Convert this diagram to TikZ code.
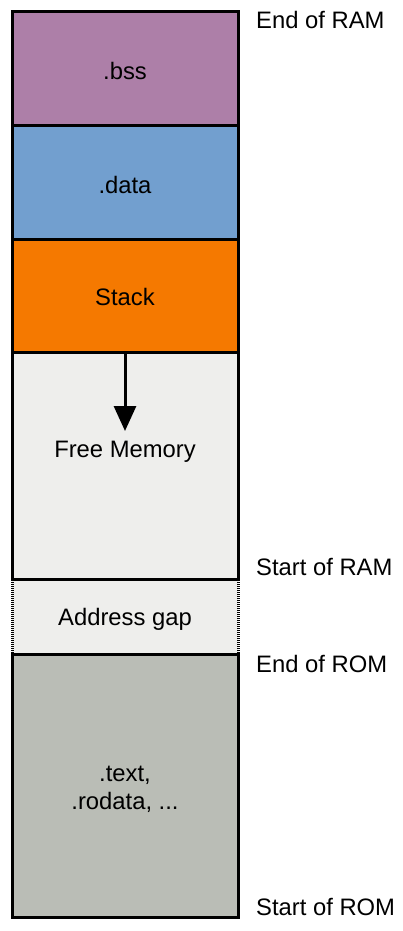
\documentclass[tikz,border=0pt]{standalone}
\usepackage{fontspec}
\setmainfont{Liberation Sans}
\usetikzlibrary{arrows.meta}
\definecolor{cbss}{HTML}{AD7FA8}
\definecolor{cdata}{HTML}{729FCF}
\definecolor{cstack}{HTML}{F57900}
\definecolor{cfree}{HTML}{EEEEEC}
\definecolor{crom}{HTML}{BABDB6}
\tikzset{
  seg/.style={draw=black, line width=3pt, minimum width=226pt, inner sep=0pt, outer sep=0pt},
  txt/.style={font=\fontsize{23.8}{28}\selectfont, inner sep=0pt, align=center},
  addr/.style={font=\fontsize{23.8}{28}\selectfont, inner sep=0pt, anchor=base west},
  arr/.style={line width=3pt, -{Triangle[width=22pt,length=25pt]}},
  gapside/.style={line width=3pt, dash pattern=on 1pt off 1pt},
  gapedge/.style={line width=0.8pt, draw=gray, dash pattern=on 1.5pt off 1pt}
}
\begin{document}
\begin{tikzpicture}[x=1pt,y=-1pt]
\useasboundingbox (0,0) rectangle (403,931);
% address gap
\fill[cfree] (12,579) rectangle (238,654);
\coordinate (gtl) at (12,580); \coordinate (gtr) at (238,580);
\coordinate (gbl) at (12,653); \coordinate (gbr) at (238,653);
\draw[gapedge] (gtl) -- (gtr);
\draw[gapedge] (gbl) -- (gbr);
\draw[gapside] (gtl) -- (gbl);
\draw[gapside] (gtr) -- (gbr);
\node[txt] (gap) at (125,619) {Address gap};
% segments
\node[seg, fill=cbss, minimum height=114pt] (bss) at (125,69) {};
\node[txt] (bsstext) at (125,71) {.bss};
\node[seg, fill=cdata, minimum height=113pt] (data) at (125,182.5) {};
\node[txt] (datatext) at (125,185) {.data};
\node[seg, fill=cstack, minimum height=113pt] (stack) at (125,295.5) {};
\node[txt] (stacktext) at (125,297) {Stack};
\node[seg, fill=cfree, minimum height=227pt] (free) at (125,465.5) {};
\node[txt] (freetext) at (125,452) {Free Memory};
\node[seg, fill=crom, minimum height=263pt] (rom) at (125,785.5) {};
\node[txt] (romtext) at (125,789) {.text,\\.rodata, ...};
% arrow
\coordinate (tip) at (125,431);
\draw[arr] (stack.south) -- (tip);
% address labels
\node[addr] (endram) at (256,29) {End of RAM};
\node[addr] (startram) at (256,575) {Start of RAM};
\node[addr] (endrom) at (256,672) {End of ROM};
\node[addr] (startrom) at (256,915) {Start of ROM};
\end{tikzpicture}
\end{document}
